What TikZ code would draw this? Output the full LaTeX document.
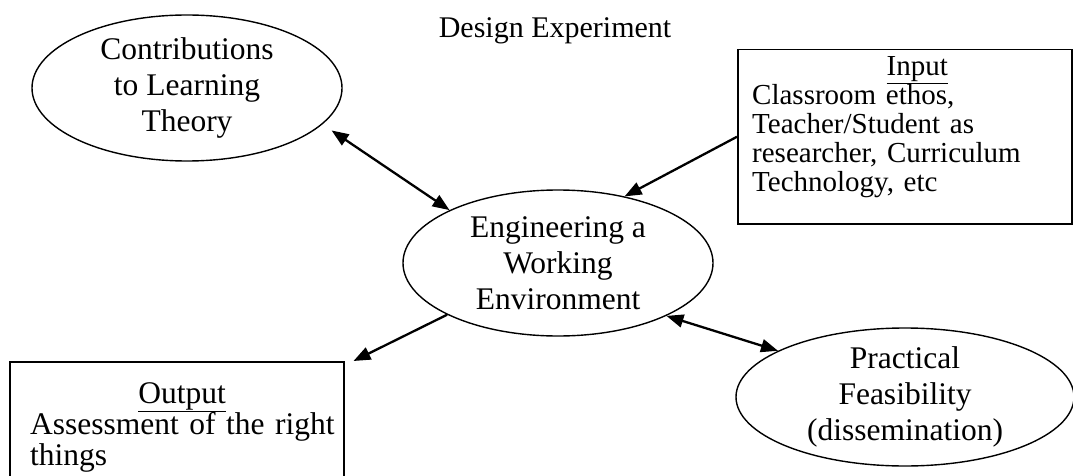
\documentclass[tikz,border=0pt]{standalone}
\usepackage{fontspec}
\setmainfont{Liberation Serif}
\usetikzlibrary{shapes.geometric,arrows.meta}

\tikzset{
	,oval/.style     = {ellipse, draw=black, line width=1.4pt, align=center, inner sep=-8pt, font=\fontsize{31.5}{36}\selectfont}
	,infobox/.style  = {rectangle, draw=black, line width=1.5pt, minimum width=334pt, minimum height=174pt, anchor=north west}
	,infotext/.style = {align=left, inner sep=0pt, anchor=north west, text width=330pt}
	,link/.style     = {-{Triangle[length=17pt,width=13pt]}, line width=2.3pt}
	,twoway/.style   = {{Triangle[length=17pt,width=13pt]}-{Triangle[length=17pt,width=13pt]}, line width=2.3pt}
}

\begin{document}
\begin{tikzpicture}[x=1pt, y=1pt]
	\useasboundingbox (0,0) rectangle (1073,-476);
	\node[font=\fontsize{30}{36}\selectfont, anchor=base] at (555,-38) (title) {Design Experiment};
	\node[oval, minimum width=310pt, minimum height=146pt] at (187,-88) (contrib) {Contributions\\ to Learning\\ Theory};
	\node[oval, minimum width=310pt, minimum height=146pt] at (558,-263) (engine) {Engineering a\\ Working\\ Environment};
	\node[oval, minimum width=338pt, minimum height=138pt] at (905,-397) (feasible) {Practical\\ Feasibility\\ (dissemination)};
	\node[infobox] at (737,-49) (input) {};
	\node[infobox] at (9,-361) (output) {};
	\node[infotext, font=\fontsize{29}{29}\selectfont] at (752,-56) (inputtext) {\makebox[\linewidth]{\underline{Input}}\\ Classroom ethos,\\ Teacher/Student as\\ researcher, Curriculum\\ Technology, etc};
	\node[infotext, font=\fontsize{31.5}{31}\selectfont] at (30,-382) (outputtext) {\makebox[\linewidth]{\underline{Output}\hspace{26pt}}\\ Assessment of the right\\ things};
	\draw[twoway, shorten <=11pt] (contrib.-15) -- (engine.154);
	\draw[link] (input.west) -- (engine.45);
	\draw[link] (engine.205) -- ([xshift=9pt]output.north east);
	\draw[twoway] (engine.-26) -- (feasible.160);
\end{tikzpicture}
\end{document}
